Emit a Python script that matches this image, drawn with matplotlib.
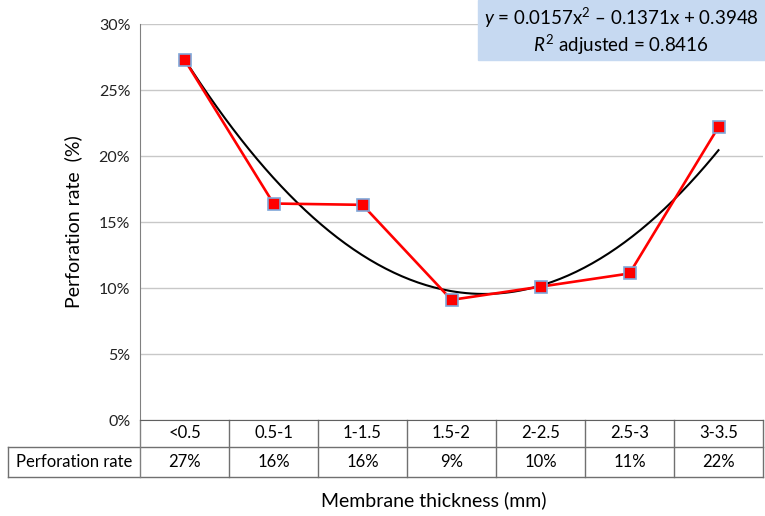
import numpy as np
import matplotlib.pyplot as plt
from matplotlib.ticker import PercentFormatter
import matplotlib.transforms as mtransforms

plt.rcParams['font.family'] = ['Lato', 'DejaVu Sans']
plt.rcParams['mathtext.fontset'] = 'custom'
plt.rcParams['mathtext.rm'] = 'Lato'
plt.rcParams['mathtext.it'] = 'Lato:italic'

# data
categories = ['<0.5', '0.5-1', '1-1.5', '1.5-2', '2-2.5', '2.5-3', '3-3.5']
rates = [27.3, 16.4, 16.3, 9.1, 10.1, 11.1, 22.2]
rate_labels = ['27%', '16%', '16%', '9%', '10%', '11%', '22%']
fit_coef = [0.0157, -0.1371, 0.3948]   # y = a x^2 + b x + c, x = 1..7

fig = plt.figure(figsize=(7.65, 5.16), dpi=100)
ax = fig.add_axes([140 / 765, 1 - 420 / 516, 623 / 765, 396 / 516])

x = np.arange(len(categories))
ax.plot(x, rates, color='red', lw=1.9, marker='s', ms=8.5,
        mfc='red', mec='#7fa7d9', mew=1.2, zorder=4)

xs = np.linspace(1, len(categories), 200)
ys = np.polyval(fit_coef, xs) * 100
ax.plot(xs - 1, ys, color='black', lw=1.5, zorder=3)

ax.set_xlim(-0.5, len(categories) - 0.5)
ax.set_ylim(0, 30)
ax.set_yticks(range(0, 31, 5))
ax.yaxis.set_major_formatter(PercentFormatter(decimals=0))
ax.tick_params(axis='y', length=0, pad=7, labelsize=11.5, colors='#222222')
ax.set_xticks([])
ax.grid(axis='y', color='#c8c8c8', lw=1)
ax.set_axisbelow(True)
for s in ['top', 'right']:
    ax.spines[s].set_visible(False)
ax.spines['left'].set_color('#808080')
ax.spines['bottom'].set_color('#606060')
ax.set_ylabel('Perforation rate  (%)', fontsize=14, labelpad=12)

# table under the plot
tr = mtransforms.blended_transform_factory(ax.transData, ax.transAxes)
r1 = -27 / 396
r2 = -57 / 396
lc = '#707070'
left_x = (8 - 140) / 89 - 0.5
ax.plot([left_x, 6.5], [r1, r1], transform=tr, color=lc, lw=1, clip_on=False)
ax.plot([left_x, 6.5], [r2, r2], transform=tr, color=lc, lw=1, clip_on=False)
ax.plot([left_x, left_x], [r1, r2], transform=tr, color=lc, lw=1, clip_on=False)
ax.plot([-0.5, -0.5], [0, r2], transform=tr, color='#808080', lw=1, clip_on=False)
for i in range(len(categories)):
    ax.plot([i + 0.5, i + 0.5], [0, r2], transform=tr, color=lc, lw=1, clip_on=False)
    ax.text(i, r1 / 2, categories[i], transform=tr, ha='center', va='center', fontsize=12)
    ax.text(i, (r1 + r2) / 2, rate_labels[i], transform=tr, ha='center', va='center', fontsize=12)
ax.text((left_x - 0.5) / 2, (r1 + r2) / 2, 'Perforation rate', transform=tr,
        ha='center', va='center', fontsize=12)

fig.text(434 / 765, 1 - 500 / 516, 'Membrane thickness (mm)',
         ha='center', va='center', fontsize=14)

# equation box
fig.patches.append(plt.Rectangle((478 / 765, 1 - 60 / 516), 287 / 765, 60 / 516,
                                 transform=fig.transFigure, color='#c6d9f1', zorder=5))
fig.text(621 / 765, 1 - 18 / 516, r'$y$ = 0.0157x$^2$ – 0.1371x + 0.3948',
         ha='center', va='center', fontsize=13.5, zorder=6)
fig.text(621 / 765, 1 - 45 / 516, r'$R^2$ adjusted = 0.8416',
         ha='center', va='center', fontsize=13.5, zorder=6)

fig.savefig('out.png', dpi=100)
